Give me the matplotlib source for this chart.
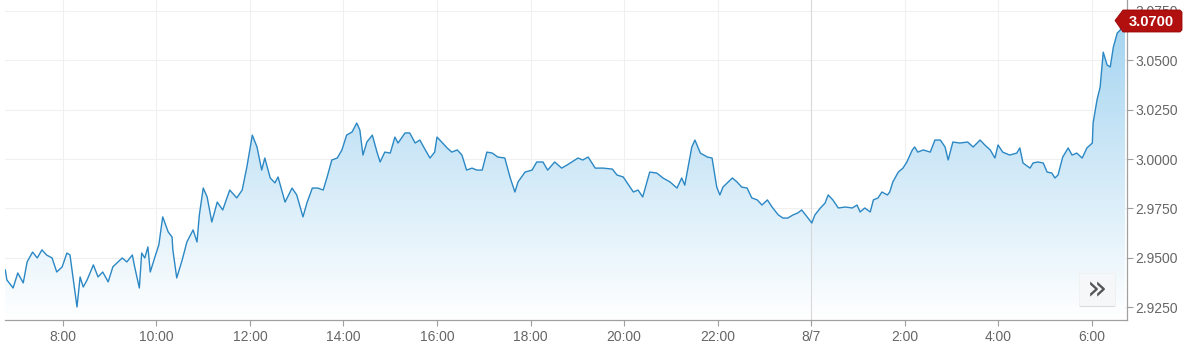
import numpy as np
import matplotlib
matplotlib.use("Agg")
import matplotlib.pyplot as plt
from matplotlib.patches import Polygon, FancyBboxPatch
from matplotlib.colors import LinearSegmentedColormap

# minutes since 8/6 00:00
minutes = [406,408,416,422,429,434,441,447,453,459,466,472,479,485,489,493,498,502,506,511,519,525,531,538,544,556,562,569,572,578,581,585,589,592,598,603,608,615,620,621,626,633,639,647,652,
           655,660,665,671,678,685,694,703,710,716,723,729,735,739,746,752,756,765,774,780,788,793,800,807,814,819,825,832,838,844,851,857,861,865,870,877,883,887,893,900,
           906,910,919,925,932,938,945,951,957,960,966,973,979,986,992,998,1005,1011,1018,1024,1031,1038,1047,1054,1060,1064,1073,1082,1088,1096,1102,1111,1120,1127,1133,1141,
           1147,1154,1163,1173,1185,1191,1199,1212,1218,1224,1233,1242,1250,1259,1268,1274,1278,1287,1291,1298,1307,1313,1319,1323,1327,1339,1345,1351,1358,1364,1371,1377,1384,
           1390,1398,1404,1410,1417,1423,1428,1435,1441,1445,1452,1458,1462,1468,1475,1484,1493,1499,1503,1509,1516,1520,1526,1531,1538,1541,1545,1552,1558,1563,1570,1573,1577,1584,1593,1599,1606,1612,1616,1622,1631,1641,1648,1657,1663,1670,1676,1680,1686,1695,1704,1708,1712,1721,1725,1731,1738,1743,1749,1753,1757,1763,1770,1775,1781,1788,1794,1801,1802,1807,1811,1815,1820,1824,1828,1833,1837,1840,1843]

prices = [2.9438,2.9388,2.9347,2.9423,2.9373,2.9479,2.9529,2.9499,2.9540,2.9514,2.9499,2.9428,2.9454,2.9524,2.9514,2.9398,2.9251,2.9403,2.9352,2.9388,2.9464,2.9403,2.9428,2.9378,2.9454,2.9499,2.9479,2.9514,2.9454,2.9347,2.9524,2.9499,2.9555,2.9428,2.9504,2.9565,2.9707,2.9631,2.9605,2.9540,2.9398,2.9489,2.9580,2.9641,2.9580,
          2.9717,2.9853,2.9808,2.9681,2.9782,2.9742,2.9843,2.9803,2.9843,2.9960,3.0121,3.0061,2.9944,3.0005,2.9904,2.9879,2.9909,2.9782,2.9853,2.9818,2.9707,2.9777,2.9853,2.9853,2.9843,2.9909,2.9995,3.0005,3.0046,3.0121,3.0137,3.0182,3.0147,3.0020,3.0086,3.0121,3.0035,2.9985,3.0035,3.0030,
          3.0111,3.0081,3.0132,3.0132,3.0081,3.0096,3.0046,3.0005,3.0035,3.0111,3.0086,3.0056,3.0035,3.0046,3.0020,2.9944,2.9954,2.9944,2.9944,3.0035,3.0030,3.0010,3.0005,2.9904,2.9833,2.9884,2.9934,2.9944,2.9985,2.9985,2.9944,2.9985,2.9954,2.9970,2.9985,3.0005,
          2.9995,3.0010,2.9954,2.9954,2.9949,2.9919,2.9909,2.9833,2.9843,2.9808,2.9934,2.9929,2.9904,2.9884,2.9853,2.9904,2.9868,3.0061,3.0096,3.0030,3.0010,3.0005,2.9858,2.9818,2.9858,2.9904,2.9884,2.9858,2.9853,2.9803,2.9793,2.9767,2.9793,
          2.9757,2.9717,2.9701,2.9701,2.9717,2.9727,2.9742,2.9707,2.9676,2.9717,2.9752,2.9777,2.9818,2.9793,2.9752,2.9757,2.9752,2.9767,2.9732,2.9752,2.9732,2.9793,2.9803,2.9833,2.9818,2.9833,2.9884,2.9934,2.9954,2.9985,3.0046,3.0061,3.0035,3.0046,3.0035,3.0096,3.0096,3.0061,2.9995,3.0086,3.0081,3.0086,3.0061,3.0096,3.0071,3.0046,3.0005,3.0071,3.0035,3.0020,3.0030,3.0056,2.9980,2.9954,2.9980,2.9985,2.9980,2.9934,2.9929,2.9904,2.9919,3.0010,3.0056,3.0020,3.0030,3.0005,3.0056,3.0081,3.0182,3.0299,3.0364,3.0541,3.0476,3.0466,3.0567,3.0638,3.0653,3.0744,3.0700]

x_tick_minutes = [480, 600, 720, 840, 960, 1080, 1200, 1320, 1440, 1560, 1680, 1800]
x_tick_labels = ["8:00", "10:00", "12:00", "14:00", "16:00", "18:00", "20:00", "22:00", "8/7", "2:00", "4:00", "6:00"]
y_ticks = [2.925, 2.950, 2.975, 3.000, 3.025, 3.050, 3.075]
last_label = "3.0700"

plt.rcParams['font.family'] = ['Liberation Sans', 'DejaVu Sans']

W, H = 1200, 356
fig = plt.figure(figsize=(W / 100, H / 100), dpi=100)
ax = fig.add_axes([5 / W, 36 / H, 1122 / W, 320 / H])

x = np.array(minutes, dtype=float)
y = np.array(prices)
xmin, xmax = 405.6, 1845.5
ymin, ymax = 2.9185, 3.0805
ax.set_xlim(xmin, xmax)
ax.set_ylim(ymin, ymax)

# gradient fill under the line
poly = ax.fill_between(x, y, ymin, color='none', lw=0)
cmap = LinearSegmentedColormap.from_list('g', [(1, 1, 1), (0.62, 0.82, 0.94)])
grad = np.linspace(0, 1, 256).reshape(-1, 1)
im = ax.imshow(grad, aspect='auto', cmap=cmap, origin='lower',
               extent=[xmin, xmax, ymin, ymax], zorder=1, interpolation='bilinear')
path = poly.get_paths()[0]
im.set_clip_path(path, transform=ax.transData)

ax.plot(x, y, color='#2b88c4', lw=1.0, zorder=3, solid_joinstyle='round')

# grid
for yt in y_ticks:
    ax.axhline(yt, color='#f0f0f0', lw=0.8, zorder=0)
for xt in x_tick_minutes:
    ax.axvline(xt, color='#f0f0f0' if xt != 1440 else '#d9d9d9', lw=0.8, zorder=0 if xt != 1440 else 2)

for s in ['top', 'left']:
    ax.spines[s].set_visible(False)
ax.spines['bottom'].set_color('#a0a0a0')
ax.spines['right'].set_color('#a0a0a0')
ax.spines['bottom'].set_linewidth(0.9)
ax.spines['right'].set_linewidth(0.9)

ax.set_xticks(x_tick_minutes)
ax.set_xticklabels(x_tick_labels)
ax.yaxis.tick_right()
ax.set_yticks(y_ticks)
ax.set_yticklabels([f"{v:.4f}" for v in y_ticks])
ax.tick_params(axis='x', length=4, width=0.8, color='#a0a0a0', labelcolor='#666666', labelsize=10, pad=3)
ax.tick_params(axis='y', length=4, width=0.8, color='#a0a0a0', labelcolor='#666666', labelsize=10, pad=2)
ax.tick_params(axis='y', left=False, labelleft=False)

# last value badge
def px2fig(px, py):
    return (px / W, 1 - py / H)

tip_x = 1115
tip_y = 20.5
badge = [(tip_x, tip_y), (1123, 10), (1180, 10), (1182, 12), (1182, 30), (1180, 32), (1123, 32)]
fig.patches.append(Polygon([px2fig(*p) for p in badge], closed=True, transform=fig.transFigure,
                           facecolor='#b20f0f', edgecolor='#9a0a0a', lw=0.6, zorder=10))
fig.text(*px2fig(1151, 21.5), last_label, color='white', fontsize=10.5, fontweight='bold',
         ha='center', va='center', zorder=11)

# navigator button
fig.patches.append(FancyBboxPatch(px2fig(1079, 306), 36 / W, 33 / H, boxstyle='square,pad=0',
                                  transform=fig.transFigure, facecolor='#f6f7f8',
                                  edgecolor='#f0f0f0', lw=0.6, zorder=10))
fig.lines.append(matplotlib.lines.Line2D([1080 / W, 1114 / W], [1 - 306 / H, 1 - 306 / H],
                                         transform=fig.transFigure, color='#dcdcdc', lw=0.8, zorder=11))
fig.text(*px2fig(1097, 290), "\u00bb", color='#555555', fontsize=24,
         ha='center', va='center', zorder=11, family='DejaVu Sans')

fig.savefig("out.png", dpi=100)
